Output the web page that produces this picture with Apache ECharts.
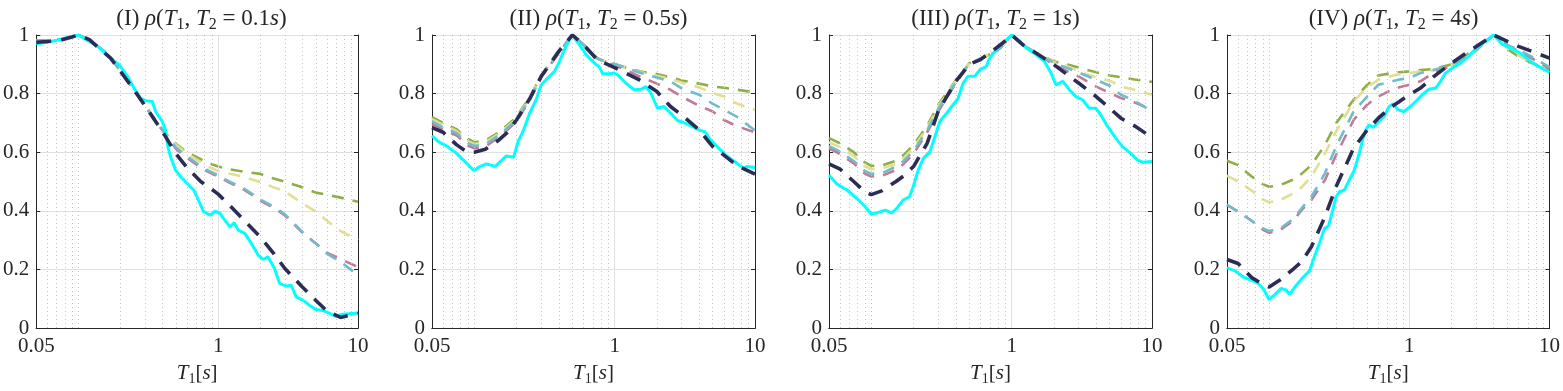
<!DOCTYPE html>
<html><head><meta charset="utf-8">
<script src="https://cdn.jsdelivr.net/npm/echarts@6/dist/echarts.min.js"></script>
<style>html,body{margin:0;padding:0;background:#fff}#c{width:1563px;height:391px}</style>
</head><body><div id="c"></div>
<script>
// ---------- data ----------
const panelTags = ['(I)', '(II)', '(III)', '(IV)'];
const panelT2 = ['0.1', '0.5', '1', '4'];
const xTickLabels = [0.05, 1, 10];
const yTicks = [0, 0.2, 0.4, 0.6, 0.8, 1];

// period grid of the dashed (model) curves
const periodsModel = [0.05, 0.06, 0.075, 0.09, 0.1, 0.12, 0.15, 0.17, 0.2, 0.25, 0.3, 0.4, 0.5, 0.6, 0.75, 0.85, 1, 1.2, 1.5, 2, 2.5, 3, 4, 5, 6, 7.5, 10];

// Panel I (T2 = 0.1 s)
const navyI   = [0.975,0.978,0.983,0.993,1.0,0.984,0.944,0.921,0.876,0.813,0.758,0.670,0.594,0.547,0.500,0.482,0.457,0.420,0.372,0.311,0.254,0.203,0.140,0.094,0.058,0.036,0.050];
const oliveI  = [0.980,0.982,0.985,0.994,1.0,0.982,0.948,0.925,0.876,0.815,0.758,0.676,0.628,0.600,0.576,0.563,0.551,0.542,0.534,0.526,0.510,0.499,0.480,0.462,0.455,0.445,0.431];
const yellowI = [0.980,0.982,0.985,0.994,1.0,0.982,0.948,0.925,0.876,0.815,0.758,0.676,0.625,0.595,0.566,0.550,0.536,0.527,0.517,0.498,0.480,0.467,0.425,0.397,0.366,0.331,0.300];
const blueI   = [0.980,0.982,0.985,0.994,1.0,0.982,0.948,0.925,0.876,0.815,0.758,0.676,0.615,0.585,0.553,0.537,0.521,0.500,0.479,0.439,0.414,0.388,0.328,0.288,0.254,0.226,0.180];
const pinkI   = [0.980,0.982,0.985,0.994,1.0,0.982,0.948,0.925,0.876,0.815,0.758,0.674,0.611,0.580,0.548,0.533,0.517,0.496,0.475,0.435,0.410,0.384,0.326,0.288,0.257,0.235,0.208];
const cyanTI = [0.05,0.06,0.07,0.08,0.09,0.1,0.138,0.171,0.196,0.225,0.25,0.279,0.303,0.338,0.357,0.398,0.42,0.437,0.456,0.495,0.537,0.599,0.668,0.705,0.786,0.877,0.951,1.03,1.09,1.215,1.30,1.39,1.55,1.73,1.93,2.10,2.27,2.53,2.75,3.07,3.33,3.61,4.03,4.49,5.0,5.58,6.22,6.94,7.74,8.63,10];
const cyanI  = [0.970,0.975,0.982,0.989,0.995,1.0,0.961,0.921,0.898,0.859,0.819,0.784,0.776,0.773,0.739,0.705,0.676,0.619,0.585,0.539,0.517,0.494,0.471,0.448,0.397,0.385,0.399,0.391,0.374,0.345,0.359,0.334,0.323,0.288,0.249,0.234,0.243,0.203,0.152,0.143,0.146,0.106,0.095,0.078,0.063,0.060,0.051,0.040,0.047,0.049,0.051];

// Panel II (T2 = 0.5 s)
const navyII   = [0.684,0.668,0.625,0.599,0.600,0.610,0.642,0.665,0.710,0.785,0.859,0.944,1.0,0.967,0.916,0.904,0.889,0.870,0.847,0.807,0.756,0.727,0.676,0.619,0.590,0.553,0.525];
const oliveII  = [0.720,0.700,0.678,0.645,0.634,0.640,0.668,0.690,0.720,0.790,0.862,0.942,1.0,0.967,0.921,0.910,0.901,0.889,0.876,0.867,0.856,0.845,0.834,0.824,0.820,0.813,0.804];
const yellowII = [0.713,0.693,0.672,0.638,0.628,0.634,0.663,0.685,0.715,0.787,0.860,0.941,1.0,0.967,0.921,0.910,0.901,0.888,0.874,0.861,0.850,0.838,0.821,0.802,0.790,0.765,0.745];
const blueII   = [0.705,0.685,0.665,0.631,0.621,0.627,0.658,0.680,0.710,0.783,0.858,0.940,1.0,0.967,0.921,0.910,0.901,0.888,0.872,0.855,0.842,0.818,0.796,0.765,0.745,0.720,0.674];
const pinkII   = [0.696,0.677,0.657,0.623,0.613,0.619,0.652,0.674,0.705,0.780,0.856,0.938,1.0,0.967,0.920,0.908,0.897,0.881,0.859,0.834,0.813,0.790,0.758,0.739,0.710,0.688,0.668];
const cyanTII = [0.05,0.0555,0.0636,0.0748,0.0834,0.093,0.0998,0.1095,0.122,0.1325,0.14,0.156,0.169,0.191,0.205,0.222,0.248,0.276,0.300,0.334,0.373,0.405,0.439,0.476,0.5,0.561,0.626,0.717,0.777,0.821,0.915,0.993,1.05,1.20,1.38,1.54,1.67,1.81,2.02,2.25,2.51,2.80,3.12,3.38,3.77,3.98,4.39,4.82,5.37,6.16,6.86,7.45,8.30,8.77,10];
const cyanII  = [0.656,0.636,0.621,0.596,0.574,0.551,0.537,0.551,0.560,0.556,0.551,0.571,0.587,0.583,0.636,0.670,0.733,0.779,0.830,0.853,0.876,0.910,0.950,0.984,1.0,0.967,0.933,0.904,0.891,0.868,0.868,0.870,0.864,0.836,0.813,0.815,0.824,0.802,0.750,0.756,0.733,0.708,0.701,0.693,0.682,0.676,0.670,0.642,0.619,0.591,0.574,0.562,0.545,0.551,0.548];

// Panel III (T2 = 1 s)
const navyIII   = [0.560,0.542,0.500,0.465,0.455,0.469,0.500,0.519,0.551,0.630,0.740,0.842,0.900,0.916,0.950,0.970,1.0,0.967,0.938,0.899,0.864,0.836,0.790,0.750,0.716,0.690,0.650];
const oliveIII  = [0.648,0.630,0.600,0.565,0.553,0.555,0.571,0.590,0.625,0.690,0.762,0.845,0.904,0.920,0.940,0.960,1.0,0.967,0.938,0.910,0.899,0.889,0.873,0.862,0.856,0.848,0.840];
const yellowIII = [0.634,0.617,0.587,0.552,0.542,0.545,0.560,0.580,0.615,0.683,0.755,0.842,0.903,0.920,0.940,0.960,1.0,0.967,0.938,0.908,0.893,0.877,0.855,0.844,0.824,0.813,0.796];
const blueIII   = [0.621,0.602,0.570,0.536,0.526,0.529,0.551,0.570,0.604,0.675,0.748,0.838,0.902,0.920,0.940,0.960,1.0,0.967,0.937,0.905,0.887,0.872,0.847,0.827,0.796,0.776,0.739];
const pinkIII   = [0.613,0.594,0.562,0.527,0.517,0.520,0.539,0.560,0.594,0.668,0.739,0.835,0.900,0.918,0.940,0.960,1.0,0.966,0.935,0.900,0.876,0.859,0.824,0.802,0.785,0.770,0.745];
const cyanTIII = [0.05,0.057,0.0671,0.079,0.0905,0.0998,0.1095,0.1255,0.129,0.14,0.152,0.169,0.187,0.199,0.216,0.235,0.262,0.284,0.308,0.344,0.383,0.416,0.451,0.489,0.546,0.592,0.66,0.697,0.777,0.867,1.0,1.108,1.27,1.49,1.71,1.91,2.07,2.31,2.58,2.87,3.20,3.57,3.98,4.32,4.82,5.52,6.16,7.05,7.87,8.53,10];
const cyanIII  = [0.522,0.491,0.471,0.442,0.414,0.389,0.393,0.402,0.405,0.393,0.408,0.437,0.448,0.482,0.539,0.579,0.602,0.653,0.705,0.733,0.762,0.784,0.836,0.859,0.859,0.881,0.893,0.921,0.950,0.973,1.0,0.984,0.956,0.933,0.910,0.870,0.830,0.842,0.813,0.790,0.779,0.750,0.750,0.727,0.688,0.648,0.619,0.596,0.574,0.566,0.568];

// Panel IV (T2 = 4 s)
const navyIV   = [0.234,0.220,0.172,0.149,0.140,0.165,0.203,0.226,0.277,0.380,0.482,0.613,0.676,0.716,0.756,0.773,0.796,0.819,0.859,0.904,0.936,0.961,1.0,0.978,0.961,0.944,0.921];
const oliveIV  = [0.571,0.556,0.517,0.491,0.482,0.488,0.507,0.526,0.556,0.625,0.699,0.779,0.830,0.862,0.870,0.873,0.876,0.880,0.884,0.900,0.930,0.955,1.0,0.952,0.927,0.904,0.880];
const yellowIV = [0.520,0.500,0.469,0.439,0.429,0.437,0.460,0.480,0.517,0.596,0.670,0.773,0.822,0.847,0.861,0.866,0.870,0.875,0.880,0.895,0.920,0.945,1.0,0.955,0.930,0.905,0.875];
const blueIV   = [0.420,0.397,0.366,0.340,0.331,0.340,0.374,0.408,0.448,0.528,0.619,0.739,0.790,0.830,0.842,0.848,0.853,0.870,0.881,0.900,0.925,0.950,1.0,0.965,0.950,0.925,0.890];
const pinkIV   = [0.420,0.397,0.366,0.336,0.325,0.335,0.368,0.402,0.437,0.505,0.590,0.710,0.762,0.790,0.813,0.822,0.830,0.842,0.872,0.895,0.925,0.950,1.0,0.965,0.945,0.920,0.885];
const cyanTIV = [0.05,0.057,0.0653,0.0748,0.0834,0.0905,0.0998,0.1095,0.122,0.1325,0.14,0.156,0.174,0.194,0.21,0.228,0.248,0.265,0.284,0.300,0.317,0.344,0.373,0.405,0.439,0.464,0.489,0.517,0.555,0.609,0.66,0.717,0.769,0.83,0.915,1.02,1.14,1.235,1.38,1.54,1.67,1.81,2.02,2.31,2.65,3.03,3.48,4.0,4.56,5.23,6.16,6.86,7.65,8.77,10];
const cyanIV  = [0.205,0.195,0.174,0.163,0.152,0.135,0.097,0.114,0.135,0.129,0.115,0.146,0.172,0.195,0.243,0.288,0.340,0.348,0.402,0.448,0.465,0.471,0.505,0.539,0.596,0.642,0.676,0.693,0.685,0.705,0.722,0.756,0.765,0.745,0.739,0.756,0.779,0.796,0.815,0.819,0.842,0.870,0.887,0.904,0.927,0.956,0.978,1.0,0.970,0.956,0.938,0.921,0.904,0.887,0.873];

const minorGridX = [0.06,0.07,0.08,0.09,0.1,0.2,0.3,0.4,0.5,0.6,0.7,0.8,0.9,2,3,4,5,6,7,8,9];
const majorGridX = [1];

// ---------- layout / style ----------
const FONT = 'Liberation Serif';
const INK = '#262626';
const gridLefts = [35, 432, 829, 1227];
const gridW = 323, gridTop = 35, gridH = 293;
const colors = { olive:'#8fae47', yellow:'#e1df93', pink:'#c17a97', blue:'#71bccc', cyan:'#00ffff', navy:'#2b2d57' };

const panels = [
  { cyanT: cyanTI,   cyan: cyanI,   navy: navyI,   olive: oliveI,   yellow: yellowI,   blue: blueI,   pink: pinkI },
  { cyanT: cyanTII,  cyan: cyanII,  navy: navyII,  olive: oliveII,  yellow: yellowII,  blue: blueII,  pink: pinkII },
  { cyanT: cyanTIII, cyan: cyanIII, navy: navyIII, olive: oliveIII, yellow: yellowIII, blue: blueIII, pink: pinkIII },
  { cyanT: cyanTIV,  cyan: cyanIV,  navy: navyIV,  olive: oliveIV,  yellow: yellowIV,  blue: blueIV,  pink: pinkIV }
];

const mkRich = (size) => ({
  n: { fontFamily: FONT, fontSize: size, fontWeight: 'normal', color: INK },
  i: { fontFamily: FONT, fontSize: size, fontStyle: 'italic', fontWeight: 'normal', color: INK },
  s: { fontFamily: FONT, fontSize: Math.round(size * 0.68), fontWeight: 'normal', color: INK, padding: [Math.round(size * 0.5), 0, 0, 0] }
});
const titleRich = mkRich(23);
const nameRich = mkRich(21);

const zip = (xs, ys) => xs.map((x, k) => [x, ys[k]]);

const grid = [], xAxis = [], yAxis = [], series = [], title = [];
panels.forEach((p, i) => {
  grid.push({ left: gridLefts[i], top: gridTop, width: gridW, height: gridH, containLabel: false });
  title.push({
    left: gridLefts[i] + gridW / 2, top: 0, textAlign: 'center',
    text: '{n|' + panelTags[i] + ' }{i|ρ}{n|(}{i|T}{s|1}{n|, }{i|T}{s|2}{n| = ' + panelT2[i] + '}{i|s}{n|)}',
    textStyle: { fontWeight: 'normal', rich: titleRich }
  });
  const logBase = { type: 'log', logBase: 10, min: 0.05, max: 10, gridIndex: i };
  xAxis.push(Object.assign({}, logBase, {
    position: 'bottom',
    axisLine: { show: true, lineStyle: { color: INK, width: 1 } },
    axisTick: { show: false },
    splitLine: { show: false },
    axisLabel: {
      interval: 0, showMinLabel: true, showMaxLabel: true, margin: 8,
      fontFamily: FONT, fontSize: 21, color: INK,
      formatter: v => { for (const t of xTickLabels) { if (Math.abs(v - t) / t < 1e-6) return String(t); } return ''; }
    },
    name: '{i|T}{s|1}{n|[}{i|s}{n|]}', nameLocation: 'middle', nameGap: 33,
    nameTextStyle: { rich: nameRich }
  }));
  xAxis.push(Object.assign({}, logBase, {
    position: 'top',
    axisLine: { show: true, lineStyle: { color: INK, width: 1 } },
    axisTick: { show: false }, axisLabel: { show: false }, splitLine: { show: false }
  }));
  yAxis.push({
    type: 'value', min: yTicks[0], max: yTicks[yTicks.length - 1], interval: 0.2, gridIndex: i, position: 'left',
    axisLine: { show: true, lineStyle: { color: INK, width: 1 } },
    axisTick: { show: true, inside: true, length: 4, lineStyle: { color: INK } },
    splitLine: { show: true, lineStyle: { color: '#e0e0e0', width: 1 } },
    axisLabel: { margin: 7, fontFamily: FONT, fontSize: 21, color: INK, formatter: v => String(+v.toFixed(1)) }
  });
  yAxis.push({
    type: 'value', min: yTicks[0], max: yTicks[yTicks.length - 1], interval: 0.2, gridIndex: i, position: 'right',
    axisLine: { show: true, lineStyle: { color: INK, width: 1 } },
    axisTick: { show: true, inside: true, length: 4, lineStyle: { color: INK } },
    splitLine: { show: false }, axisLabel: { show: false }
  });
  const xi = 2 * i, yi = 2 * i;
  // grid helper (minor dotted + major solid vertical lines)
  series.push({
    type: 'line', xAxisIndex: xi, yAxisIndex: yi, data: [[1, -1]], symbol: 'none', silent: true, z: 1,
    lineStyle: { opacity: 0 },
    markLine: {
      silent: true, symbol: ['none', 'none'], label: { show: false }, animation: false,
      data: minorGridX.map(v => ({ xAxis: v, lineStyle: { type: [1, 3], color: '#c4c4c4', width: 1 } }))
        .concat(majorGridX.map(v => ({ xAxis: v, lineStyle: { type: 'solid', color: '#e0e0e0', width: 1 } })))
    }
  });
  const dashed = (key, w, dash, z) => ({
    type: 'line', xAxisIndex: xi, yAxisIndex: yi, data: zip(periodsModel, p[key]),
    showSymbol: false, symbol: 'none', z: z, silent: true,
    lineStyle: { color: colors[key], width: w, type: dash }
  });
  series.push(dashed('olive', 2.6, [12, 9], 2));
  series.push(dashed('yellow', 2.6, [12, 9], 3));
  series.push(dashed('pink', 2.6, [12, 9], 4));
  series.push(dashed('blue', 2.6, [12, 9], 5));
  series.push({
    type: 'line', xAxisIndex: xi, yAxisIndex: yi, data: zip(p.cyanT, p.cyan),
    showSymbol: false, symbol: 'none', z: 6, silent: true,
    lineStyle: { color: colors.cyan, width: 3 }
  });
  series.push(dashed('navy', 3.6, [15, 10], 7));
});

const chart = echarts.init(document.getElementById('c'), null, { renderer: 'canvas' });
chart.setOption({ animation: false, backgroundColor: '#ffffff', title, grid, xAxis, yAxis, series });
</script>
</body></html>
